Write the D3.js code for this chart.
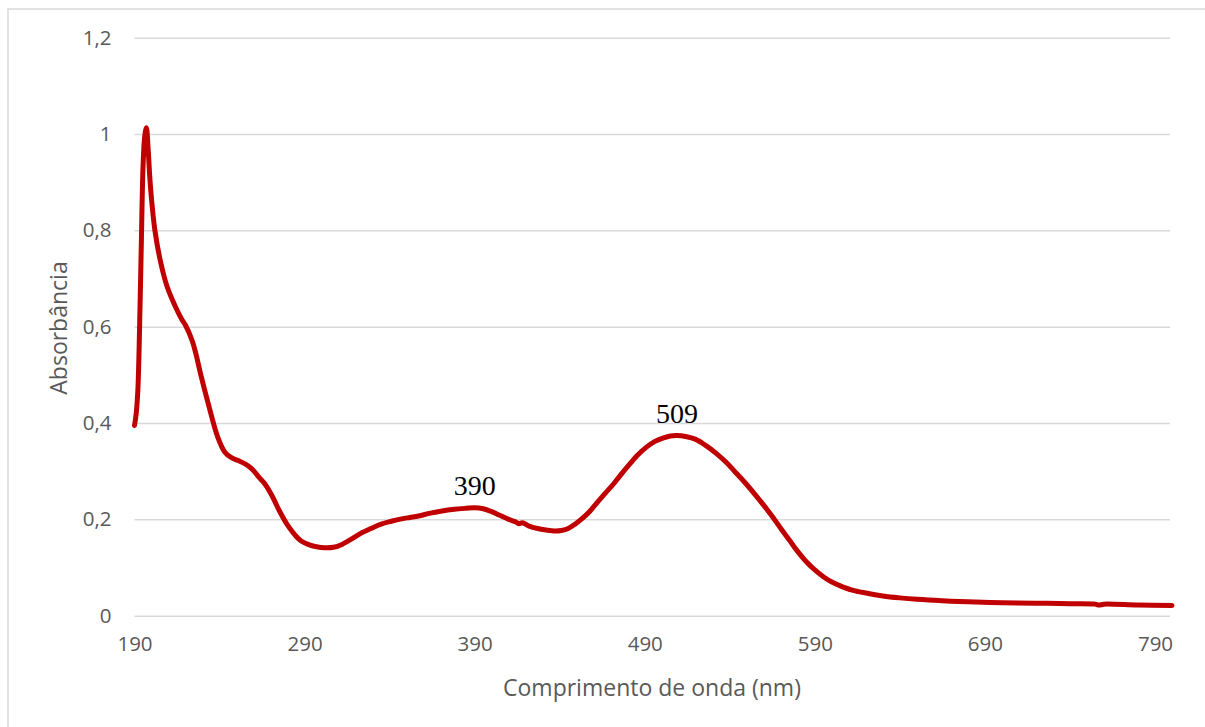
<!DOCTYPE html>
<html>
<head>
<meta charset="utf-8">
<script src="https://cdn.jsdelivr.net/npm/d3@7"></script>
<style>
  html, body { margin: 0; padding: 0; background: #ffffff; }
  svg { display: block; }
</style>
</head>
<body>
<svg id="chart" width="1205" height="727"></svg>
<script>
// UV-Vis absorption spectrum
const wavelengths = [
  190, 191, 192, 193, 194, 195, 196, 197, 198, 199, 200, 202, 205, 209, 214, 218, 220, 224, 226, 229,
  233, 239, 243, 247, 251, 255, 259, 263, 267, 271, 275, 280, 285, 288, 292, 297, 302, 307, 312, 318,
  323, 329, 335, 341, 347, 352, 357, 364, 370, 378, 385, 390, 395, 400, 405, 410, 414, 416, 418, 422,
  427, 432, 437, 441, 445, 449, 454, 458, 462, 467, 472, 476, 481, 486, 491, 496, 501, 505, 509, 514,
  520, 526, 532, 538, 543, 549, 555, 560, 565, 570, 575, 580, 585, 590, 595, 600, 605, 612, 620, 630,
  640, 650, 665, 680, 700, 720, 740, 755, 757, 760, 780, 800
];
const absorbance = [
  0.395, 0.42, 0.47, 0.60, 0.77, 0.93, 0.995, 1.013, 0.97, 0.91, 0.865, 0.80, 0.74, 0.685, 0.642, 0.614, 0.603, 0.57, 0.545, 0.50,
  0.445, 0.37, 0.34, 0.328, 0.322, 0.315, 0.305, 0.288, 0.272, 0.248, 0.219, 0.188, 0.165, 0.155, 0.148, 0.143, 0.141, 0.142, 0.148, 0.16,
  0.171, 0.181, 0.19, 0.196, 0.201, 0.204, 0.207, 0.213, 0.217, 0.221, 0.223, 0.224, 0.222, 0.216, 0.208, 0.200, 0.195, 0.191, 0.193, 0.186,
  0.181, 0.178, 0.176, 0.177, 0.181, 0.190, 0.204, 0.218, 0.235, 0.255, 0.275, 0.293, 0.314, 0.334, 0.350, 0.362, 0.369, 0.373, 0.374, 0.372,
  0.366, 0.353, 0.337, 0.318, 0.299, 0.276, 0.251, 0.229, 0.206, 0.181, 0.157, 0.133, 0.112, 0.095, 0.081, 0.070, 0.062, 0.053, 0.047, 0.041,
  0.037, 0.034, 0.031, 0.029, 0.027, 0.026, 0.025, 0.024, 0.022, 0.024, 0.022, 0.021
];

const xTickValues = [190, 290, 390, 490, 590, 690, 790];
const yTickValues = [0, 0.2, 0.4, 0.6, 0.8, 1.0, 1.2];

// peak annotations (wavelength label placed above the band maximum)
const peakLabels = ["390", "509"];
const peakWavelengths = [390, 509];

const data = wavelengths.map((w, i) => ({ w, a: absorbance[i] }));

const svg = d3.select("#chart");
const plot = { left: 134.5, right: 1172, top: 37.7, bottom: 615.7 };

const x = d3.scaleLinear().domain([190, 800]).range([plot.left, plot.right]);
const y = d3.scaleLinear().domain([0, 1.2]).range([plot.bottom, plot.top]);

const axisFont = "'Open Sans', 'Noto Sans', sans-serif";
const textGray = "#595959";
const gridGray = "#d9d9d9";

// chart frame
svg.append("rect")
  .attr("x", 8).attr("y", 9)
  .attr("width", 1400).attr("height", 1000)
  .attr("fill", "#ffffff")
  .attr("stroke", gridGray)
  .attr("stroke-width", 1.5);

// horizontal gridlines and y tick labels
const yAxis = d3.axisLeft(y)
  .tickValues(yTickValues)
  .tickSize(-(1170 - plot.left))
  .tickPadding(23)
  .tickFormat(d => d3.format("~g")(d).replace(".", ","));

const gy = svg.append("g")
  .attr("transform", `translate(${plot.left},0)`)
  .call(yAxis);
gy.select(".domain").remove();
gy.selectAll(".tick line")
  .attr("stroke", gridGray)
  .attr("stroke-width", 1.5);
gy.selectAll(".tick text")
  .attr("fill", textGray)
  .style("font-family", axisFont)
  .style("font-size", "20.5px");

// x tick labels (no tick marks)
const xAxis = d3.axisBottom(x)
  .tickValues(xTickValues)
  .tickSize(0)
  .tickPadding(21)
  .tickFormat(d3.format("d"));

const gx = svg.append("g")
  .attr("transform", `translate(0,${plot.bottom})`)
  .call(xAxis);
gx.select(".domain").remove();
gx.selectAll(".tick text")
  .attr("fill", textGray)
  .style("font-family", axisFont)
  .style("font-size", "20.5px");

// axis titles
svg.append("text")
  .attr("x", 652)
  .attr("y", 696)
  .attr("text-anchor", "middle")
  .attr("fill", textGray)
  .style("font-family", axisFont)
  .style("font-size", "23px")
  .text("Comprimento de onda (nm)");

svg.append("text")
  .attr("transform", "translate(67,328) rotate(-90)")
  .attr("text-anchor", "middle")
  .attr("fill", textGray)
  .style("font-family", axisFont)
  .style("font-size", "23px")
  .text("Absorbância");

// spectrum line
const line = d3.line()
  .x(d => x(d.w))
  .y(d => y(d.a))
  .curve(d3.curveCatmullRom.alpha(0.5));

svg.append("path")
  .datum(data)
  .attr("fill", "none")
  .attr("stroke", "#c00000")
  .attr("stroke-width", 5)
  .attr("stroke-linejoin", "round")
  .attr("stroke-linecap", "round")
  .attr("d", line);

// peak labels
peakWavelengths.forEach((w, i) => {
  const a = absorbance[wavelengths.indexOf(w)];
  svg.append("text")
    .attr("x", x(w))
    .attr("y", y(a) - 13)
    .attr("text-anchor", "middle")
    .attr("fill", "#000000")
    .style("font-family", "'Liberation Serif', 'DejaVu Serif', serif")
    .style("font-size", "28px")
    .text(peakLabels[i]);
});
</script>
</body>
</html>
